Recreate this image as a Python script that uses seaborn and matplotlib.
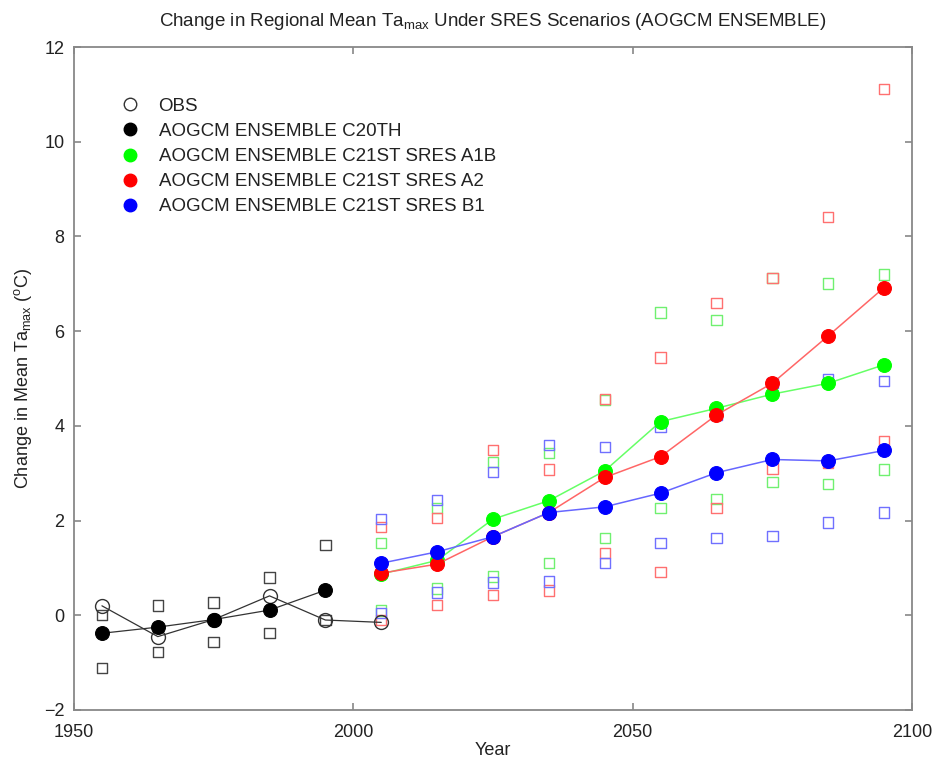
import numpy as np
import pandas as pd
import matplotlib
matplotlib.use("Agg")
import matplotlib.pyplot as plt
import seaborn as sns
from matplotlib.lines import Line2D

sns.set_style("white")
plt.rcParams["font.family"] = ["Liberation Sans", "DejaVu Sans"]
plt.rcParams["mathtext.fontset"] = "custom"
plt.rcParams["mathtext.rm"] = "Liberation Sans"
plt.rcParams["mathtext.it"] = "Liberation Sans"

# Decade mid-points
years_20c = [1955, 1965, 1975, 1985, 1995]
years_obs = [1955, 1965, 1975, 1985, 1995, 2005]
years_21c = [2005, 2015, 2025, 2035, 2045, 2055, 2065, 2075, 2085, 2095]

# Observations
obs = [0.20, -0.45, -0.09, 0.41, -0.10, -0.15]

# 20th-century ensemble mean and spread
c20_mean = [-0.38, -0.25, -0.09, 0.11, 0.53]
c20_hi = [0.00, 0.21, 0.27, 0.80, 1.49]
c20_lo = [-1.11, -0.78, -0.56, -0.38, -0.10]

# 21st-century scenarios: ensemble mean, upper and lower members
a1b_mean = [0.87, 1.16, 2.03, 2.42, 3.05, 4.09, 4.37, 4.67, 4.90, 5.29]
a1b_hi = [1.53, 2.26, 3.24, 3.43, 4.55, 6.39, 6.24, 7.12, 7.01, 7.20]
a1b_lo = [0.10, 0.57, 0.82, 1.10, 1.63, 2.26, 2.45, 2.82, 2.77, 3.08]

a2_mean = [0.89, 1.08, 1.66, 2.17, 2.91, 3.35, 4.23, 4.90, 5.90, 6.92]
a2_hi = [1.87, 2.05, 3.49, 3.08, 4.57, 5.44, 6.59, 7.12, 8.41, 11.11]
a2_lo = [-0.10, 0.22, 0.43, 0.52, 1.31, 0.92, 2.27, 3.10, 3.22, 3.67]

b1_mean = [1.10, 1.34, 1.66, 2.17, 2.29, 2.58, 3.01, 3.29, 3.26, 3.48]
b1_hi = [2.03, 2.43, 3.03, 3.60, 3.55, 3.98, 4.23, 4.90, 4.98, 4.95]
b1_lo = [0.05, 0.48, 0.69, 0.71, 1.10, 1.53, 1.63, 1.67, 1.96, 2.17]

labels = ["OBS", "AOGCM ENSEMBLE C20TH", "AOGCM ENSEMBLE C21ST SRES A1B",
          "AOGCM ENSEMBLE C21ST SRES A2", "AOGCM ENSEMBLE C21ST SRES B1"]

fig = plt.figure(figsize=(9.38, 7.62), dpi=100)
ax = fig.add_axes([74 / 938, 1 - 710 / 762, (912 - 74) / 938, (710 - 47) / 762])

spread_ms = 7.5
txt = "#222222"


def draw_spread(years, hi, lo, color):
    df = pd.DataFrame({"year": years + years, "val": hi + lo})
    sns.scatterplot(data=df, x="year", y="val", ax=ax, marker="s", s=spread_ms ** 2,
                    facecolor="none", edgecolor=color, linewidth=1.0,
                    legend=False, zorder=2)


# Spread squares (lighter tints of the scenario colours)
draw_spread(years_20c, c20_hi, c20_lo, "#444444")
draw_spread(years_21c, a1b_hi, a1b_lo, "#70f070")
draw_spread(years_21c, a2_hi, a2_lo, "#ff7070")
draw_spread(years_21c, b1_hi, b1_lo, "#7070ff")

# Observations: open circles joined by a thin dark line
sns.lineplot(x=years_obs, y=obs, ax=ax, color="#333333", linewidth=0.9, zorder=3,
             marker="o", markersize=10, markerfacecolor="none",
             markeredgecolor="#333333", markeredgewidth=1.0)

# Ensemble means
sns.lineplot(x=years_20c, y=c20_mean, ax=ax, color="#333333", linewidth=0.9, zorder=4,
             marker="o", markersize=10, markerfacecolor="black", markeredgecolor="black")
for mean, col, lc in [(a1b_mean, (0, 1, 0), "#66ff66"),
                      (a2_mean, (1, 0, 0), "#ff6666"),
                      (b1_mean, (0, 0, 1), "#6666ff")]:
    sns.lineplot(x=years_21c, y=mean, ax=ax, color=lc, linewidth=1.1, zorder=4,
                 marker="o", markersize=10, markerfacecolor=col, markeredgecolor=col)

ax.set_xlim(1950, 2100)
ax.set_ylim(-2, 12)
ax.set_xticks([1950, 2000, 2050, 2100])
ax.set_yticks(range(-2, 13, 2))

for s in ax.spines.values():
    s.set_color("#888888")
    s.set_linewidth(1.3)
ax.tick_params(direction="in", length=5, width=1.2, color="#888888",
               top=True, right=True, bottom=True, left=True,
               labelsize=13, labelcolor=txt)
ax.tick_params(axis="x", pad=10)
ax.tick_params(axis="y", pad=7)

ax.set_xlabel("Year", fontsize=13, color=txt, labelpad=1)
ax.set_ylabel(r"Change in Mean Ta$_{\rm max}$ ($^{\rm o}$C)", fontsize=13, color=txt, labelpad=7)
ax.set_title(r"Change in Regional Mean Ta$_{\rm max}$ Under SRES Scenarios (AOGCM ENSEMBLE)",
             fontsize=13.5, color=txt, pad=15)

handles = [
    Line2D([], [], linestyle="none", marker="o", markersize=9, markerfacecolor="none",
           markeredgecolor="#333333"),
    Line2D([], [], linestyle="none", marker="o", markersize=9, color="black"),
    Line2D([], [], linestyle="none", marker="o", markersize=9, color=(0, 1, 0)),
    Line2D([], [], linestyle="none", marker="o", markersize=9, color=(1, 0, 0)),
    Line2D([], [], linestyle="none", marker="o", markersize=9, color=(0, 0, 1)),
]
leg = ax.legend(handles, labels, loc="upper left", bbox_to_anchor=(0.045, 0.935),
                frameon=False, fontsize=13.5, handletextpad=0.9, labelspacing=0.43,
                handlelength=1.2, borderaxespad=0)
for t in leg.get_texts():
    t.set_color(txt)

fig.savefig("out.png", dpi=100)
